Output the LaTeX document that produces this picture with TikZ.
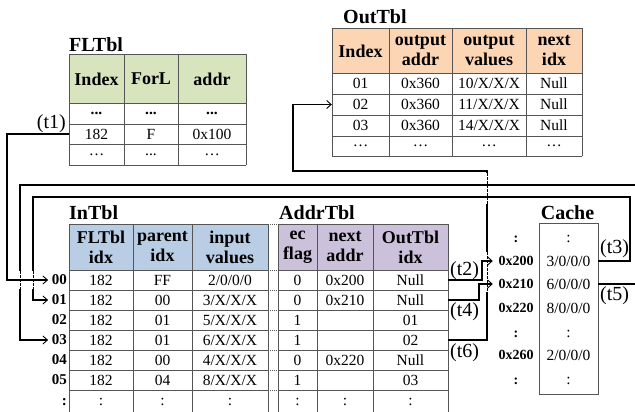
\documentclass[tikz,border=0pt]{standalone}
\usepackage{fontspec}
\setmainfont{Liberation Serif}
\usetikzlibrary{arrows.meta}

\definecolor{hdrgreen}{RGB}{215,228,189}
\definecolor{hdrorange}{RGB}{252,213,181}
\definecolor{hdrblue}{RGB}{185,205,229}
\definecolor{hdrpurple}{RGB}{204,193,218}
\definecolor{rulegray}{RGB}{85,85,85}

\tikzset{
  ttl/.style={font=\fontsize{20}{22}\selectfont\bfseries, inner sep=0pt},
  hdr/.style={font=\fontsize{18}{20}\selectfont\bfseries, align=center, inner sep=0pt},
  val/.style={font=\fontsize{15.5}{17}\selectfont, inner sep=0pt},
  rowlab/.style={font=\fontsize{15}{17}\selectfont\bfseries, anchor=east, inner sep=0pt},
  addrlab/.style={font=\fontsize{14}{16}\selectfont\bfseries, inner sep=0pt},
  tlab/.style={font=\fontsize{20}{22}\selectfont, inner sep=0pt},
  gridline/.style={draw=rulegray, line width=0.9pt},
  gapline/.style={draw=rulegray, line width=0.7pt, dash pattern=on 1pt off 1pt},
  link/.style={draw=black, line width=1.4pt},
  arrowin/.style={-{Straight Barb[length=4.5pt,width=8pt,line width=0.9pt]}},
  hop/.style={draw=black, line width=0.9pt, dash pattern=on 2.5pt off 1.5pt},
  knock/.style={draw=white, line width=2.8pt},
}

% one row of OutTbl: name, y, four values
\newcommand\outrow[6]{%
  \node[val, minimum width=57pt] (out#1a) at (360.5,#2) {#3};
  \node[val, minimum width=63pt] (out#1b) at (420.5,#2) {#4};
  \node[val, minimum width=74pt] (out#1c) at (489,#2) {#5};
  \node[val, minimum width=56pt] (out#1d) at (554,#2) {#6};}

% one row of InTbl + AddrTbl: name, y, row label, six values
\newcommand\inrow[9]{%
  \node[rowlab] (lab#1) at (67,#2) {#3};
  \node[val, minimum width=64pt] (in#1a) at (101,#2) {#4};
  \node[val, minimum width=59pt] (in#1b) at (162.5,#2) {#5};
  \node[val, minimum width=76pt] (in#1c) at (230,#2) {#6};
  \node[val, minimum width=39pt] (ad#1a) at (297.5,#2) {#7};
  \node[val, minimum width=56pt] (ad#1b) at (345,#2) {#8};
  \node[val, minimum width=75pt] (ad#1c) at (410.5,#2) {#9};}

\begin{document}
\begin{tikzpicture}[x=1pt, y=-1pt]
\fill[white] (0,0) rectangle (635,412);
\useasboundingbox (0,0) rectangle (635,412);

% ---------------- FLTbl ----------------
\node[ttl, anchor=west] (fltTitle) at (69,45) {FLTbl};
\fill[hdrgreen] (69,54) rectangle (246,103);
\foreach \x in {69,124,178,246} \draw[gridline] (\x,54) -- (\x,165);
\foreach \y in {54,103,124,144,165} \draw[gridline] (69,\y) -- (246,\y);
\node[hdr] (fltH1) at (96.5,79) {Index};
\node[hdr] (fltH2) at (151,79) {ForL};
\node[hdr] (fltH3) at (212,79) {addr};
\node[val] (flt11) at (96.5,113.5) {\textbf{...}};
\node[val] (flt12) at (151,113.5) {\textbf{...}};
\node[val] (flt13) at (212,113.5) {\textbf{...}};
\node[val, minimum width=55pt, minimum height=20pt] (flt21) at (96.5,134) {182};
\node[val] (flt22) at (151,134) {F};
\node[val] (flt23) at (212,134) {0x100};
\node[val] (flt31) at (96.5,154.5) {\dots};
\node[val] (flt32) at (151,154.5) {...};
\node[val] (flt33) at (212,154.5) {\dots};

% ---------------- OutTbl ----------------
\node[ttl, anchor=west] (outTitle) at (343,17) {OutTbl};
\fill[hdrorange] (332,28) rectangle (582,73);
\foreach \x in {332,389,452,526,582} \draw[gridline] (\x,28) -- (\x,156);
\foreach \y in {28,73,94,115,136,156} \draw[gridline] (332,\y) -- (582,\y);
\node[hdr] (outH1) at (360.5,51) {Index};
\node[hdr] (outH2) at (420.5,51) {output\\addr};
\node[hdr] (outH3) at (489,51) {output\\values};
\node[hdr] (outH4) at (554,51) {next\\idx};
\outrow{1}{83.5}{01}{0x360}{10/X/X/X}{Null}
\outrow{2}{104.5}{02}{0x360}{11/X/X/X}{Null}
\outrow{3}{125.5}{03}{0x360}{14/X/X/X}{Null}
\outrow{4}{146}{\dots}{\dots}{\dots}{\dots}

% ---------------- InTbl and AddrTbl ----------------
\node[ttl, anchor=west] (inTitle) at (69,213) {InTbl};
\node[ttl, anchor=west] (adTitle) at (279,213) {AddrTbl};
\fill[hdrblue] (69,224) rectangle (268,270);
\fill[hdrpurple] (278,224) rectangle (448,270);
\foreach \x in {69,133,192,268,278,317,373,448} \draw[gridline] (\x,224) -- (\x,412);
\foreach \y in {224,270,290,310,330,350,370,390} {
  \draw[gridline] (69,\y) -- (268,\y);
  \draw[gridline] (278,\y) -- (448,\y);
  \draw[gapline] (268,\y) -- (278,\y);
}
\node[hdr] (inH1) at (101,247) {FLTbl\\idx};
\node[hdr] (inH2) at (162.5,247) {parent\\idx};
\node[hdr] (inH3) at (230,247) {input\\values};
\node[hdr] (adH1) at (297.5,247) {ec\\flag};
\node[hdr] (adH2) at (345,247) {next\\addr};
\node[hdr] (adH3) at (410.5,247) {OutTbl\\idx};
\inrow{0}{280}{00}{182}{FF}{2/0/0/0}{0}{0x200}{Null}
\inrow{1}{300}{01}{182}{00}{3/X/X/X}{0}{0x210}{Null}
\inrow{2}{320}{02}{182}{01}{5/X/X/X}{1}{}{01}
\inrow{3}{340}{03}{182}{01}{6/X/X/X}{1}{}{02}
\inrow{4}{360}{04}{182}{00}{4/X/X/X}{0}{0x220}{Null}
\inrow{5}{380}{05}{182}{04}{8/X/X/X}{1}{}{03}
\inrow{6}{402}{:}{:}{:}{:}{:}{:}{:}

% ---------------- Cache ----------------
\node[ttl] (cacheTitle) at (567.5,213) {Cache};
\node[draw=rulegray, line width=0.9pt, minimum width=59pt, minimum height=171pt, inner sep=0pt] (cache) at (568.5,308.5) {};
\node[val] (cv0) at (568.5,239) {:};
\node[val] (cv1) at (568.5,261) {3/0/0/0};
\node[val] (cv2) at (568.5,284) {6/0/0/0};
\node[val] (cv3) at (568.5,308) {8/0/0/0};
\node[val] (cv4) at (568.5,334) {:};
\node[val] (cv5) at (568.5,355) {2/0/0/0};
\node[val] (cv6) at (568.5,381) {:};
\node[addrlab] (ca0) at (516,239) {:};
\node[addrlab] (ca1) at (516,261) {0x200};
\node[addrlab] (ca2) at (516,284) {0x210};
\node[addrlab] (ca3) at (516,308) {0x220};
\node[addrlab] (ca4) at (516,334) {:};
\node[addrlab] (ca5) at (516,355) {0x260};
\node[addrlab] (ca6) at (516,381) {:};

% ---------------- connectors ----------------
\coordinate (t1bend) at (7,134);
\coordinate (t2bend) at (482,280);
\coordinate (t4bend) at (479,300);
\coordinate (t3top) at (630,197);
\coordinate (t3left) at (33,197);
\coordinate (t5out) at (635,284);
\coordinate (t5in) at (635,185);
\coordinate (t5left) at (20,185);
\coordinate (t6right) at (487,171);
\coordinate (t6left) at (293,171);

% (t6): AddrTbl row 03 up to OutTbl row 02
\draw[link, arrowin] (ad3c.east) -| (t6right) -- (t6left) |- (out2a.west);
\draw[knock] (487,173) -- (487,204);
\draw[hop] (487,173) -- (487,204);
\draw[knock] (487,252) -- (487,292);
\draw[hop] (487,252) -- (487,292);

% (t2), (t4): AddrTbl to cache addresses
\draw[link, arrowin, shorten >=5.5pt] (ad0c.east) -- (t2bend) |- (ca1.west);
\draw[link, arrowin, shorten >=5.5pt] (ad1c.east) -- (t4bend) |- (ca2.west);

% (t3): cache 3/0/0/0 back to InTbl row 01
\draw[link, arrowin, shorten >=3.5pt] (cv1 -| cache.east) -| (t3top) -- (t3left) |- (lab1.west);
% (t5): cache 6/0/0/0 back to InTbl row 03
\draw[link] (cv2 -| cache.east) -- (t5out);
\draw[link, arrowin, shorten >=3.5pt] (t5in) -- (t5left) |- (lab3.west);

\draw[knock] (20,271) -- (20,289);
\draw[hop] (20,271) -- (20,289);
\draw[knock] (33,271) -- (33,289);
\draw[hop] (33,271) -- (33,289);

% (t1): FLTbl entry 182 to InTbl row 00
\draw[link, arrowin, shorten >=3.5pt] (flt21.west) -- (t1bend) |- (lab0.west);

% step labels
\node[tlab, anchor=east] (lt1) at (66,124) {(t1)};
\node[tlab, anchor=west] (lt2) at (450,271) {(t2)};
\node[tlab, anchor=west] (lt4) at (450,312) {(t4)};
\node[tlab, anchor=west] (lt6) at (450,353) {(t6)};
\node[tlab, anchor=west] (lt3) at (600,249) {(t3)};
\node[tlab, anchor=west] (lt5) at (600,296) {(t5)};
\end{tikzpicture}
\end{document}
